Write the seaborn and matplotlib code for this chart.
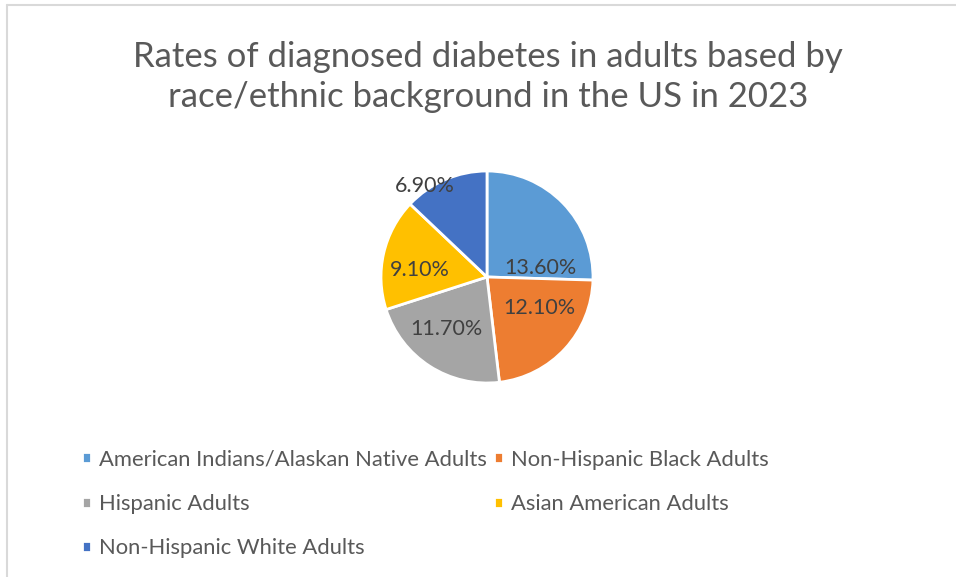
import matplotlib
matplotlib.use("Agg")
import matplotlib.pyplot as plt
import seaborn as sns

categories = ["American Indians/Alaskan Native Adults", "Non-Hispanic Black Adults",
              "Hispanic Adults", "Asian American Adults", "Non-Hispanic White Adults"]
values = [13.6, 12.1, 11.7, 9.1, 6.9]
colors = ["#5B9BD5", "#ED7D31", "#A5A5A5", "#FFC000", "#4472C4"]
title = "Rates of diagnosed diabetes in adults based by\nrace/ethnic background in the US in 2023"

sns.set_theme(style="white")
plt.rcParams['font.family'] = ['Lato', 'DejaVu Sans']

W, H = 956, 577
fig = plt.figure(figsize=(W / 100, H / 100), dpi=100)
fig.patch.set_facecolor("white")

# chart border (top and left visible)
fig.add_artist(plt.Line2D([7 / W, 1], [1 - 5 / H, 1 - 5 / H], color="#D9D9D9", lw=1.5))
fig.add_artist(plt.Line2D([7 / W, 7 / W], [1 - 5 / H, 0], color="#D9D9D9", lw=1.5))

cx, cy, r, half = 487, 277, 106, 150
ax = fig.add_axes([(cx - half) / W, (H - cy - half) / H, 2 * half / W, 2 * half / H])
total = sum(values)
wedges, texts, autotexts = ax.pie(
    values, colors=colors, startangle=90, counterclock=False,
    wedgeprops=dict(edgecolor="white", linewidth=2),
    autopct=lambda p: f"{p * total / 100:.2f}%", pctdistance=0.6,
    textprops=dict(color="#404040", fontsize=15.5))
label_pos = [(0.50, 0.085), (0.49, -0.29), (-0.38, -0.49), (-0.63, 0.066), (-0.59, 0.86)]
for t, pos in zip(autotexts, label_pos):
    t.set_position(pos)
ax.set_xlim(-half / r, half / r)
ax.set_ylim(-half / r, half / r)
ax.set_aspect("equal")
ax.axis("off")

fig.text(488 / W, 1 - 77 / H, title, ha="center", va="center", fontsize=25,
         color="#595959", linespacing=1.33)

order = [0, 2, 4, 1, 3]
leg = fig.legend([wedges[i] for i in order], [categories[i] for i in order],
                 ncol=2, loc="upper left", bbox_to_anchor=(62 / W, 1 - 430 / H),
                 frameon=False, fontsize=15.8, handlelength=0.4, handleheight=0.4,
                 handletextpad=0.4, columnspacing=0.3, labelspacing=1.1, labelcolor="#595959")

fig.savefig("out.png", dpi=100)
